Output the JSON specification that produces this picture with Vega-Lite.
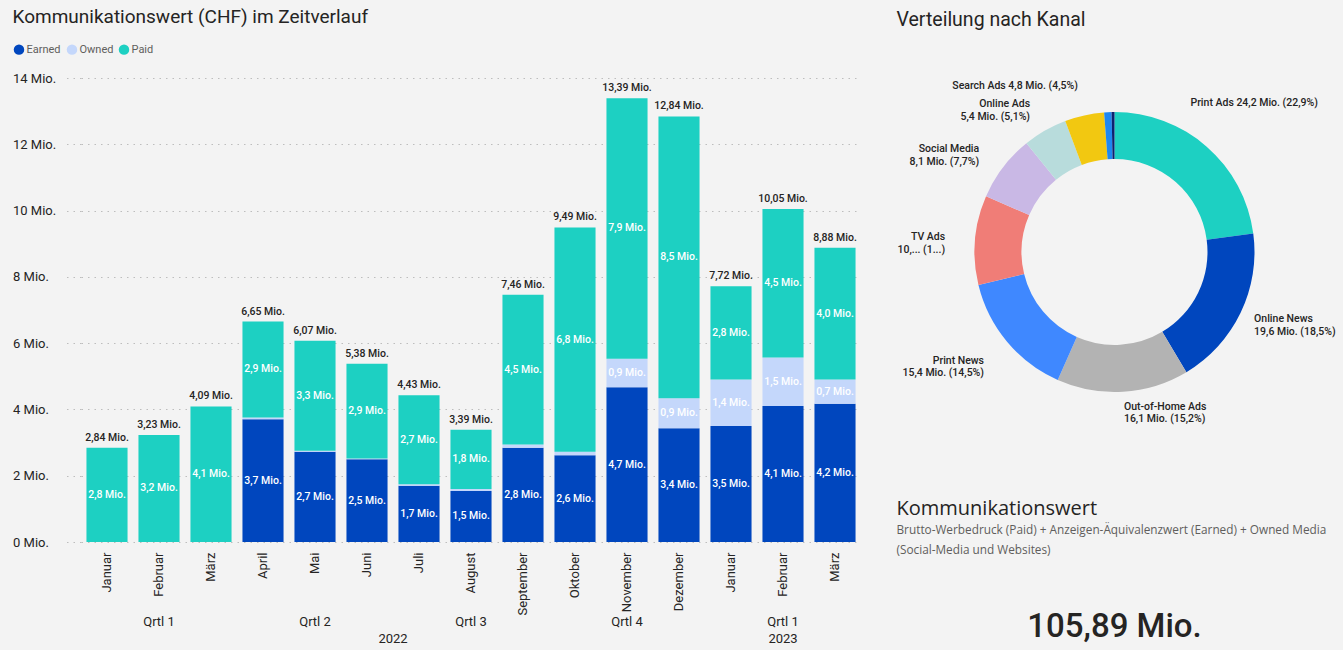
{
  "$schema": "https://vega.github.io/schema/vega-lite/v6.json",
  "background": "#f3f3f3",
  "padding": {"left": 12, "top": 8, "right": 0, "bottom": 0},
  "config": {
    "locale": {"number": {"decimal": ",", "thousands": "'", "grouping": [3], "currency": ["", " Mio."]}},
    "view": {"stroke": null},
    "font": "Roboto"
  },
  "datasets": {
    "monate": [
      {"Periode": "2022-01", "Quartal": "2022-Q1", "Typ": "Paid", "Wert": 2.84},
      {"Periode": "2022-02", "Quartal": "2022-Q1", "Typ": "Paid", "Wert": 3.23},
      {"Periode": "2022-03", "Quartal": "2022-Q1", "Typ": "Paid", "Wert": 4.09},
      {"Periode": "2022-04", "Quartal": "2022-Q2", "Typ": "Earned", "Wert": 3.70},
      {"Periode": "2022-04", "Quartal": "2022-Q2", "Typ": "Owned", "Wert": 0.06},
      {"Periode": "2022-04", "Quartal": "2022-Q2", "Typ": "Paid", "Wert": 2.89},
      {"Periode": "2022-05", "Quartal": "2022-Q2", "Typ": "Earned", "Wert": 2.72},
      {"Periode": "2022-05", "Quartal": "2022-Q2", "Typ": "Owned", "Wert": 0.03},
      {"Periode": "2022-05", "Quartal": "2022-Q2", "Typ": "Paid", "Wert": 3.32},
      {"Periode": "2022-06", "Quartal": "2022-Q2", "Typ": "Earned", "Wert": 2.50},
      {"Periode": "2022-06", "Quartal": "2022-Q2", "Typ": "Owned", "Wert": 0.02},
      {"Periode": "2022-06", "Quartal": "2022-Q2", "Typ": "Paid", "Wert": 2.86},
      {"Periode": "2022-07", "Quartal": "2022-Q3", "Typ": "Earned", "Wert": 1.70},
      {"Periode": "2022-07", "Quartal": "2022-Q3", "Typ": "Owned", "Wert": 0.04},
      {"Periode": "2022-07", "Quartal": "2022-Q3", "Typ": "Paid", "Wert": 2.69},
      {"Periode": "2022-08", "Quartal": "2022-Q3", "Typ": "Earned", "Wert": 1.54},
      {"Periode": "2022-08", "Quartal": "2022-Q3", "Typ": "Owned", "Wert": 0.06},
      {"Periode": "2022-08", "Quartal": "2022-Q3", "Typ": "Paid", "Wert": 1.79},
      {"Periode": "2022-09", "Quartal": "2022-Q3", "Typ": "Earned", "Wert": 2.84},
      {"Periode": "2022-09", "Quartal": "2022-Q3", "Typ": "Owned", "Wert": 0.10},
      {"Periode": "2022-09", "Quartal": "2022-Q3", "Typ": "Paid", "Wert": 4.52},
      {"Periode": "2022-10", "Quartal": "2022-Q4", "Typ": "Earned", "Wert": 2.62},
      {"Periode": "2022-10", "Quartal": "2022-Q4", "Typ": "Owned", "Wert": 0.10},
      {"Periode": "2022-10", "Quartal": "2022-Q4", "Typ": "Paid", "Wert": 6.77},
      {"Periode": "2022-11", "Quartal": "2022-Q4", "Typ": "Earned", "Wert": 4.67},
      {"Periode": "2022-11", "Quartal": "2022-Q4", "Typ": "Owned", "Wert": 0.86},
      {"Periode": "2022-11", "Quartal": "2022-Q4", "Typ": "Paid", "Wert": 7.86},
      {"Periode": "2022-12", "Quartal": "2022-Q4", "Typ": "Earned", "Wert": 3.43},
      {"Periode": "2022-12", "Quartal": "2022-Q4", "Typ": "Owned", "Wert": 0.91},
      {"Periode": "2022-12", "Quartal": "2022-Q4", "Typ": "Paid", "Wert": 8.50},
      {"Periode": "2023-01", "Quartal": "2023-Q1", "Typ": "Earned", "Wert": 3.50},
      {"Periode": "2023-01", "Quartal": "2023-Q1", "Typ": "Owned", "Wert": 1.40},
      {"Periode": "2023-01", "Quartal": "2023-Q1", "Typ": "Paid", "Wert": 2.82},
      {"Periode": "2023-02", "Quartal": "2023-Q1", "Typ": "Earned", "Wert": 4.10},
      {"Periode": "2023-02", "Quartal": "2023-Q1", "Typ": "Owned", "Wert": 1.47},
      {"Periode": "2023-02", "Quartal": "2023-Q1", "Typ": "Paid", "Wert": 4.48},
      {"Periode": "2023-03", "Quartal": "2023-Q1", "Typ": "Earned", "Wert": 4.17},
      {"Periode": "2023-03", "Quartal": "2023-Q1", "Typ": "Owned", "Wert": 0.73},
      {"Periode": "2023-03", "Quartal": "2023-Q1", "Typ": "Paid", "Wert": 3.98}
    ],
    "quartale": [
      {"Quartal": "2022-Q1", "Label": "Qrtl 1"},
      {"Quartal": "2022-Q2", "Label": "Qrtl 2"},
      {"Quartal": "2022-Q3", "Label": "Qrtl 3"},
      {"Quartal": "2022-Q4", "Label": "Qrtl 4"},
      {"Quartal": "2023-Q1", "Label": "Qrtl 1"}
    ],
    "jahre": [
      {"Quartal": "2022-Q2", "Jahr": "2022"},
      {"Quartal": "2023-Q1", "Jahr": "2023"}
    ],
    "kanaele": [
      {"Kanal": "Print Ads", "Wert": 24.2, "Label": "Print Ads 24,2 Mio. (22,9%)"},
      {"Kanal": "Online News", "Wert": 19.6, "Label": "Online News\n19,6 Mio. (18,5%)"},
      {"Kanal": "Out-of-Home Ads", "Wert": 16.1, "Label": "Out-of-Home Ads\n16,1 Mio. (15,2%)"},
      {"Kanal": "Print News", "Wert": 15.4, "Label": "Print News\n15,4 Mio. (14,5%)"},
      {"Kanal": "TV Ads", "Wert": 10.9, "Label": "TV Ads\n10,... (1...)"},
      {"Kanal": "Social Media", "Wert": 8.1, "Label": "Social Media\n8,1 Mio. (7,7%)"},
      {"Kanal": "Online Ads", "Wert": 5.4, "Label": "Online Ads\n5,4 Mio. (5,1%)"},
      {"Kanal": "Search Ads", "Wert": 4.8, "Label": "Search Ads 4,8 Mio. (4,5%)"},
      {"Kanal": "Radio Ads", "Wert": 0.9},
      {"Kanal": "Sonstige", "Wert": 0.35}
    ],
    "gesamt": [{"Wert": 105.89}]
  },
  "spacing": 24.5,
  "resolve": {"scale": {"color": "independent"}, "legend": {"color": "independent"}},
  "hconcat": [
    {
      "spacing": 0,
      "vconcat": [
        {
          "width": 780,
          "height": 464,
          "data": {"name": "monate"},
          "title": {"text": "Kommunikationswert (CHF) im Zeitverlauf", "anchor": "start", "frame": "bounds", "offset": 45, "font": "Roboto", "fontSize": 19, "fontWeight": "normal", "color": "#252423"},
          "encoding": {
            "x": {
              "field": "Periode", "type": "nominal",
              "scale": {"type": "band", "paddingInner": 0.21, "paddingOuter": 0.105},
              "axis": {
                "title": null, "orient": "bottom",
                "labelExpr": "['Januar','Februar','März','April','Mai','Juni','Juli','August','September','Oktober','November','Dezember'][toNumber(slice(datum.value, 5)) - 1]",
                "labelAngle": 270, "labelAlign": "right", "labelBaseline": "middle",
                "ticks": false, "domain": false, "grid": false, "labelPadding": 10,
                "labelFontSize": 13, "labelColor": "#252423", "labelFont": "Roboto"
              }
            }
          },
          "layer": [
            {
              "mark": {"type": "bar"},
              "encoding": {
                "y": {
                  "field": "Wert", "type": "quantitative", "stack": "zero",
                  "scale": {"domain": [0, 14], "nice": false},
                  "axis": {
                    "title": null, "values": [0, 2, 4, 6, 8, 10, 12, 14], "format": "$.0f",
                    "grid": true, "gridDash": [1.5, 5], "gridColor": "#bdbdbd",
                    "domain": false, "ticks": true, "tickSize": 17, "tickDash": [1.5, 5], "tickColor": "#bdbdbd",
                    "labelAlign": "left", "labelBaseline": "middle", "labelPadding": 51.5,
                    "labelFontSize": 13, "labelColor": "#252423", "labelFont": "Roboto"
                  }
                },
                "color": {
                  "field": "Typ", "type": "nominal",
                  "scale": {"domain": ["Earned", "Owned", "Paid"], "range": ["#0046BE", "#C4D7FB", "#1DD0C2"]},
                  "legend": {
                    "orient": "none", "legendX": -67.5, "legendY": -34, "direction": "horizontal",
                    "title": null, "symbolType": "circle", "symbolSize": 110, "symbolStrokeWidth": 0,
                    "labelFontSize": 11, "labelColor": "#605e5c", "labelFont": "Roboto",
                    "columnPadding": 5, "labelOffset": 2, "padding": 0
                  }
                },
                "order": {"field": "Typ", "type": "nominal", "sort": "ascending"}
              }
            },
            {
              "transform": [
                {"stack": "Wert", "groupby": ["Periode"], "sort": [{"field": "Typ", "order": "ascending"}], "as": ["y0", "y1"]},
                {"fold": ["y0", "y1"], "as": ["Ende", "Pos"]},
                {"aggregate": [{"op": "mean", "field": "Pos", "as": "Mitte"}, {"op": "max", "field": "Wert", "as": "Wert"}], "groupby": ["Periode", "Typ"]},
                {"filter": "datum.Wert >= 0.3"}
              ],
              "mark": {"type": "text", "color": "white", "fontSize": 10.5, "fontWeight": 500, "baseline": "middle"},
              "encoding": {
                "y": {"field": "Mitte", "type": "quantitative", "title": null},
                "text": {"field": "Wert", "type": "quantitative", "format": "$.1f"}
              }
            },
            {
              "transform": [
                {"aggregate": [{"op": "sum", "field": "Wert", "as": "Summe"}], "groupby": ["Periode"]}
              ],
              "mark": {"type": "text", "color": "#252423", "fontSize": 10.5, "fontWeight": 500, "baseline": "bottom", "dy": -5},
              "encoding": {
                "y": {"field": "Summe", "type": "quantitative", "title": null},
                "text": {"field": "Summe", "type": "quantitative", "format": "$.2f"}
              }
            }
          ]
        },
        {
          "width": 780,
          "height": 34,
          "encoding": {
            "x": {
              "field": "Quartal", "type": "nominal",
              "scale": {"type": "band", "paddingInner": 0, "paddingOuter": 0},
              "axis": null
            }
          },
          "layer": [
            {
              "data": {"name": "quartale"},
              "mark": {"type": "text", "fontSize": 13, "color": "#252423", "baseline": "middle", "dy": -11},
              "encoding": {"text": {"field": "Label", "type": "nominal"}}
            },
            {
              "data": {"name": "jahre"},
              "transform": [{"filter": "datum.Jahr == '2022'"}],
              "mark": {"type": "text", "fontSize": 13, "color": "#252423", "baseline": "middle", "dy": 6},
              "encoding": {
                "x": {"field": "Quartal", "type": "nominal", "bandPosition": 1, "axis": null},
                "text": {"field": "Jahr", "type": "nominal"}
              }
            },
            {
              "data": {"name": "jahre"},
              "transform": [{"filter": "datum.Jahr == '2023'"}],
              "mark": {"type": "text", "fontSize": 13, "color": "#252423", "baseline": "middle", "dy": 6},
              "encoding": {"text": {"field": "Jahr", "type": "nominal"}}
            }
          ]
        }
      ]
    },
    {
      "spacing": 71,
      "vconcat": [
        {
          "width": 458,
          "height": 348,
          "title": {"text": "Verteilung nach Kanal", "anchor": "start", "frame": "group", "offset": 26, "dx": 11, "font": "Roboto", "fontSize": 19.5, "fontWeight": "normal", "color": "#252423"},
          "data": {"name": "kanaele"},
          "encoding": {
            "theta": {"field": "Wert", "type": "quantitative", "stack": true},
            "order": {"field": "Wert", "type": "quantitative", "sort": "descending"}
          },
          "layer": [
            {
              "mark": {"type": "arc", "innerRadius": 93, "outerRadius": 140},
              "encoding": {
                "color": {
                  "field": "Kanal", "type": "nominal",
                  "scale": {
                    "domain": ["Print Ads", "Online News", "Out-of-Home Ads", "Print News", "TV Ads", "Social Media", "Online Ads", "Search Ads", "Radio Ads", "Sonstige"],
                    "range": ["#1DD0C2", "#0046BE", "#B3B3B3", "#3F88FF", "#F07D77", "#C9B8E5", "#B8DCDC", "#F2C811", "#1E88F0", "#0D2170"]
                  },
                  "legend": null
                }
              }
            },
            {
              "mark": {"type": "text", "radius": 170, "align": "left", "baseline": "middle", "dx": -36, "dy": -21, "fontSize": 10.5, "fontWeight": 500, "color": "#252423"},
              "encoding": {
                "text": {"condition": {"test": "datum.Kanal == 'Print Ads'", "field": "Label", "type": "nominal"}, "value": ""}
              }
            },
            {
              "mark": {"type": "text", "radius": 155, "align": "left", "baseline": "middle", "lineBreak": "\n", "fontSize": 10.5, "fontWeight": 500, "color": "#252423"},
              "encoding": {
                "text": {"condition": {"test": "indexof(['Online News','Out-of-Home Ads'], datum.Kanal) >= 0", "field": "Label", "type": "nominal"}, "value": ""}
              }
            },
            {
              "mark": {"type": "text", "radius": 170, "align": "right", "baseline": "middle", "lineBreak": "\n", "fontSize": 10.5, "fontWeight": 500, "color": "#252423"},
              "encoding": {
                "text": {"condition": {"test": "indexof(['Print News','TV Ads','Social Media','Online Ads','Search Ads'], datum.Kanal) >= 0", "field": "Label", "type": "nominal"}, "value": ""}
              }
            }
          ]
        },
        {
          "width": 458,
          "height": 60,
          "title": {
            "text": "Kommunikationswert",
            "subtitle": ["Brutto-Werbedruck (Paid) + Anzeigen-Äquivalenzwert (Earned) + Owned Media", "(Social-Media und Websites)"],
            "anchor": "start", "frame": "group", "offset": 4, "dx": 11,
            "font": "Open Sans", "fontSize": 20, "fontWeight": "normal", "color": "#252423",
            "subtitleFont": "Open Sans", "subtitleFontSize": 11.8, "subtitleColor": "#605e5c", "subtitleLineHeight": 20, "subtitlePadding": 6
          },
          "data": {"name": "gesamt"},
          "mark": {"type": "text", "font": "Roboto", "fontSize": 33, "fontWeight": 500, "color": "#252423", "baseline": "middle", "dy": 36},
          "encoding": {
            "text": {"field": "Wert", "type": "quantitative", "format": "$.2f"}
          }
        }
      ]
    }
  ]
}
